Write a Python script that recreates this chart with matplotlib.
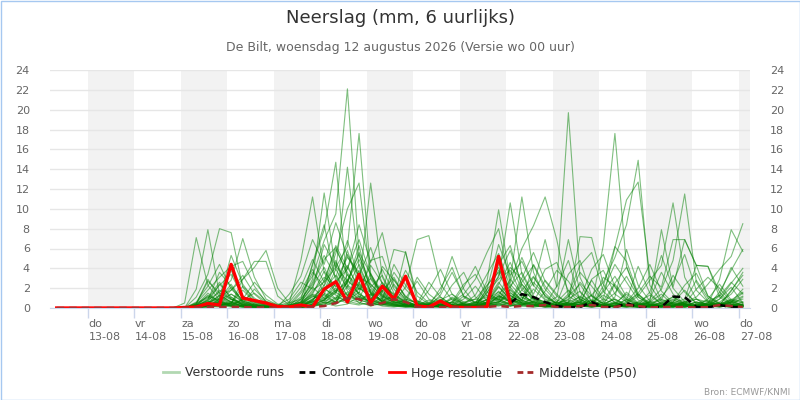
import matplotlib
matplotlib.use("Agg")
from matplotlib import pyplot as plt
from matplotlib.lines import Line2D
from matplotlib.patches import Rectangle
from matplotlib.transforms import ScaledTranslation
import pandas as pd

# 6-hourly time steps (local time), 12-08 08:00 .. 27-08 02:00
times = pd.date_range("2026-08-12 08:00", periods=60, freq="6h")

# perturbed ensemble members, values from step 11 (14-08 20:00) onwards; before that 0
# blocks per row: 15-08 | dry | 18/19-08 | 20/21-08 | 22-08 | 23-08 .. 27-08
runs = [
    [0, 0.3, 1.2, 0.8, 2.1, 0.5, 0.2, 0.1] + [0, 0.2, 1.5] + [3.2, 6.8, 9.5, 22.1, 5.3, 2.4, 1.1, 0.6, 0.3] + [0.2, 0.1, 0.8, 1.4, 0.3, 0.1, 0.5] + [2.1, 0.9, 0.4, 0.2, 0.1] + [0, 0.3, 1.2, 0.4, 0.1, 0.2, 0.9, 0.3, 0, 0.1, 0.6, 1.8, 0.4, 0.1, 0.3, 0.8, 0.2],
    [0, 0.1, 0.6, 2.4, 1.1, 0.4, 0.2, 0] + [0.1, 0, 0.4] + [1.8, 2.6, 4.1, 6.2, 17.6, 3.4, 0.9, 0.4, 0.2] + [0.1, 0.4, 1.1, 0.3, 0, 0.2, 1.6] + [0.8, 2.9, 1.4, 0.5, 0.3] + [2.2, 19.7, 3.1, 0.6, 0.2, 0.1, 0.5, 1.4, 0.3, 0.1, 0.1, 0.4, 0.9, 0.2, 0.1, 0.3, 1.1],
    [0, 0.4, 2.7, 1.5, 0.9, 0.3, 0.8, 0.2] + [0, 0.1, 0.9] + [4.3, 7.9, 14.7, 2.1, 4.4, 1.6, 0.7, 1.2, 0.4] + [0.3, 0.8, 0.2, 0.1, 0.6, 0.9, 2.3] + [3.6, 1.2, 0.6, 1.9, 0.8] + [0.3, 0.9, 1.7, 0.4, 6.3, 17.6, 4.2, 1.1, 0.3, 0.2, 0.6, 0.4, 0.1, 0.3, 0.9, 2.1, 0.5],
    [0, 0, 0.5, 0.9, 3.8, 1.2, 0.4, 0.1] + [0, 0.5, 4.8] + [11.2, 3.6, 1.4, 5.8, 2.2, 12.6, 3.1, 0.8, 0.3] + [0.1, 0, 0.3, 0.9, 0.4, 0.2, 0.1] + [1.3, 0.6, 2.4, 0.9, 0.2] + [0.1, 0.4, 0.2, 1.3, 2.6, 5.1, 8.4, 14.9, 2.3, 0.6, 0.2, 0.1, 0.4, 0.8, 0.3, 0.1, 0.2],
    [0, 0.2, 0.4, 1.3, 0.6, 0.2, 0.1, 0] + [0.1, 0.3, 0.6] + [2.9, 11.6, 3.8, 14.2, 4.1, 1.7, 0.6, 0.9, 0.2] + [0.4, 0.2, 0.1, 0.3, 1.2, 0.6, 0.3] + [0.9, 0.4, 1.1, 0.6, 2.8] + [1.4, 0.3, 0.6, 0.2, 0.9, 6.1, 10.9, 12.7, 3.3, 0.8, 0.4, 0.2, 0.1, 0.5, 0.3, 0.6, 0.2],
    [0, 1.9, 7.9, 1.3, 0.6, 0.4, 0.2, 0.1] + [0, 0, 0.2] + [0.8, 2.3, 5.5, 10.0, 12.6, 2.9, 1.3, 0.5, 0.7] + [0.2, 0.1, 0.4, 0.2, 0, 0.1, 0.6] + [4.4, 6.3, 2.1, 0.7, 0.3] + [0.2, 0.6, 7.2, 7.1, 2.4, 0.8, 0.3, 0.1, 0.2, 0.6, 1.1, 0.4, 0.2, 0.1, 0.4, 0.7, 0.3],
    [0, 0, 0.3, 0.6, 0.4, 2.9, 4.7, 4.7] + [1.2, 0.3, 0.1] + [4.5, 8.4, 2.7, 3.9, 8.4, 4.6, 7.6, 2.2, 0.9] + [0.5, 0.3, 0.2, 1.0, 0.4, 0.2, 1.9] + [3.1, 10.6, 3.4, 1.2, 0.5] + [0.3, 0.2, 0.8, 0.4, 0.1, 0.3, 1.6, 0.5, 0.2, 0.4, 0.9, 0.3, 0.2, 0.6, 1.3, 0.4, 0.1],
    [0, 0.1, 0.2, 0.5, 1.1, 0.3, 0.1, 0] + [0, 0.1, 0.3] + [1.2, 0.7, 2.5, 4.3, 1.8, 3.0, 1.6, 5.9, 5.6] + [1.2, 0.4, 0.1, 0.2, 0.1, 0.3, 0.2] + [0.5, 1.8, 0.7, 0.3, 0.1] + [0.2, 0.4, 0.1, 0.3, 0.6, 0.2, 0.4, 1.2, 2.8, 4.3, 10.6, 3.1, 0.9, 0.6, 0.2, 0.1, 0.3],
    [0, 0.3, 0.7, 0.4, 0.2, 0.8, 1.5, 0.6] + [0.2, 0.1, 0] + [0.4, 1.9, 3.3, 1.2, 2.6, 0.9, 1.8, 0.6, 2.1] + [6.9, 7.3, 2.4, 0.8, 0.3, 0.6, 1.1] + [0.7, 0.3, 0.9, 2.6, 1.3] + [0.4, 0.1, 0.3, 0.8, 0.2, 0.5, 0.2, 0.3, 0.7, 1.9, 4.8, 11.5, 2.6, 0.7, 0.3, 0.2, 0.1],
    [0, 0.1, 0.3, 0.2, 0.5, 0.2, 0.1, 0] + [0, 0, 0.2] + [0.9, 1.4, 0.6, 2.2, 1.1, 0.5, 2.3, 1.4, 0.6] + [0.3, 0.5, 1.6, 5.2, 1.9, 0.4, 2.7] + [9.9, 2.8, 11.2, 3.6, 1.1] + [0.5, 0.2, 0.1, 0.4, 1.3, 0.6, 0.2, 0.1, 0.3, 0.2, 0.5, 0.9, 4.3, 4.2, 1.6, 0.4, 0.2],
    [0, 0.2, 0.1, 0.4, 0.2, 0.1, 0, 0] + [0, 0.1, 0.3] + [0.6, 1.1, 2.0, 0.8, 1.6, 0.4, 0.3, 0.9, 0.5] + [0.2, 0.1, 0.6, 0.3, 0.9, 2.2, 0.7] + [1.4, 2.6, 6.0, 8.3, 11.2] + [6.9, 1.2, 0.5, 0.2, 0.4, 0.9, 0.3, 0.1, 0.2, 0.5, 0.3, 0.6, 1.1, 2.4, 3.9, 5.2, 8.5],
    [0, 0, 0.2, 0.9, 2.4, 0.6, 0.3, 0.1] + [0, 0.2, 0.1] + [0.3, 0.8, 1.6, 4.1, 2.0, 1.3, 0.6, 0.4, 0.2] + [0.1, 0.3, 0.2, 0.6, 1.4, 2.9, 5.6] + [8.0, 2.4, 1.1, 0.4, 0.2] + [0.6, 1.8, 0.9, 0.3, 2.2, 6.2, 4.7, 1.4, 0.5, 0.2, 0.1, 0.3, 0.6, 0.4, 2.9, 7.9, 5.7],
    [0, 0.1, 0.4, 0.3, 0.6, 0.2, 0.1, 0] + [0, 0.1, 0.2] + [0.5, 0.3, 1.1, 0.7, 0.4, 1.9, 0.6, 0.3, 0.1] + [0.2, 0.1, 0.1, 0.3, 0.2, 0.1, 0.4] + [0.6, 1.3, 0.5, 0.3, 0.2] + [0.1, 0.3, 0.6, 0.2, 0.1, 0.2, 0.4, 0.1, 0.1, 0.3, 0.2, 0.5, 0.2, 0.1, 0.3, 0.6, 1.2],
    [0.5, 7.1, 2.3, 0.8, 0.4, 0.2, 0.1, 0] + [0, 0.3, 0.6] + [1.4, 0.9, 2.8, 5.1, 3.6, 0.8, 0.4, 0.2, 0.1] + [0.1, 0.2, 0.4, 0.2, 0.1, 0.3, 0.8] + [2.6, 1.0, 0.4, 0.2, 0.5] + [1.1, 6.9, 1.6, 0.4, 0.2, 0.1, 0.3, 0.2, 0.6, 1.4, 0.3, 0.1, 0.2, 0.4, 0.1, 0.3, 0.2],
    [0, 1.1, 3.4, 8.0, 7.6, 2.1, 0.6, 0.3] + [0.1, 0, 0.2] + [0.7, 1.3, 0.5, 2.9, 1.4, 0.8, 2.6, 1.0, 0.4] + [0.3, 0.6, 0.2, 0.1, 0.4, 0.2, 0.3] + [1.7, 0.5, 0.8, 3.1, 1.5] + [0.4, 0.2, 0.6, 1.3, 0.5, 0.2, 0.1, 0.3, 0.2, 0.1, 0.4, 0.2, 0.6, 0.3, 0.2, 0.5, 0.9],
    [0, 0.2, 0.8, 1.6, 2.8, 7.0, 3.1, 0.9] + [0.3, 0.1, 0] + [0.2, 0.6, 0.4, 1.2, 3.8, 1.5, 0.7, 1.3, 0.5] + [0.2, 0.1, 0.3, 0.6, 0.2, 0.1, 0.2] + [0.4, 0.2, 0.3, 0.6, 0.2] + [0.1, 0.5, 0.3, 0.1, 0.2, 0.6, 0.2, 0.4, 0.1, 0.3, 0.2, 0.1, 0.3, 0.2, 0.4, 0.2, 0.3],
    [0, 0.1, 0.5, 1.2, 1.8, 2.9, 4.1, 5.8] + [2.0, 0.5, 0.9] + [2.4, 4.9, 6.1, 3.3, 2.2, 0.9, 0.4, 0.3, 0.2] + [0.1, 0.2, 0.1, 0.4, 0.3, 0.5, 1.3] + [0.9, 0.3, 0.2, 0.1, 0.3] + [0.2, 0.1, 0.4, 0.2, 0.3, 0.1, 0.2, 0.5, 0.3, 0.2, 0.1, 0.4, 0.2, 0.1, 0.3, 0.5, 0.2],
    [0, 0, 0.1, 0.3, 0.5, 0.2, 0.4, 0.2] + [0.1, 1.4, 3.2] + [6.9, 4.4, 8.6, 5.2, 3.1, 2.4, 1.2, 0.8, 5.7] + [0.6, 0.3, 0.1, 0.2, 0.4, 0.3, 0.9] + [4.9, 1.6, 0.5, 0.3, 0.1] + [0.2, 0.4, 0.6, 2.8, 0.9, 0.4, 0.2, 0.1, 0.6, 7.9, 2.1, 6.9, 4.3, 1.2, 0.5, 0.3, 0.2],
    [0, 0.1, 0.2, 0.1, 0.3, 0.1, 0, 0] + [0, 0, 0.1] + [0.3, 0.6, 0.4, 1.1, 0.8, 0.5, 0.3, 0.2, 0.4] + [0.2, 0.3, 0.5, 0.2, 0.1, 0.2, 0.3] + [0.5, 0.2, 0.4, 0.6, 0.3] + [0.2, 0.1, 0.3, 0.2, 0.4, 0.1, 0.2, 0.3, 0.1, 0.2, 0.4, 0.3, 0.1, 0.2, 0.1, 0.3, 0.4],
    [0, 0.3, 1.5, 0.6, 0.3, 0.9, 0.4, 0.1] + [0, 0.2, 0.5] + [1.1, 2.1, 0.9, 3.4, 1.2, 0.6, 4.2, 2.8, 1.2] + [0.4, 0.2, 0.8, 0.3, 0.1, 0.2, 1.9] + [6.4, 3.3, 4.7, 2.2, 6.9] + [2.1, 4.8, 0.7, 0.3, 0.1, 0.4, 0.2, 0.6, 0.3, 0.1, 0.2, 0.4, 0.2, 0.3, 0.6, 1.4, 2.9],
    [0, 0, 0.3, 0.5, 1.4, 0.7, 0.3, 0.1] + [0, 0, 0.1] + [0.8, 1.9, 1.3, 0.6, 2.4, 1.1, 0.4, 0.6, 0.3] + [0.1, 0.2, 0.3, 0.1, 0.2, 0.6, 0.4] + [1.1, 0.6, 1.8, 0.9, 0.4] + [0.6, 0.3, 0.2, 0.5, 1.6, 3.2, 1.1, 0.4, 0.2, 0.1, 0.3, 0.6, 0.9, 0.3, 0.2, 0.1, 0.4],
    [0, 0.6, 2.2, 4.4, 1.9, 0.8, 0.3, 0.2] + [0.1, 0, 0.4] + [1.6, 3.1, 2.2, 1.4, 0.9, 3.5, 1.2, 0.5, 0.3] + [0.2, 0.4, 0.9, 0.3, 0.2, 0.1, 0.6] + [2.2, 0.8, 0.3, 1.1, 0.4] + [0.3, 1.2, 2.4, 0.6, 0.2, 0.5, 1.4, 0.4, 0.1, 0.2, 0.8, 0.3, 0.1, 0.4, 0.2, 0.6, 1.5],
    [0, 0.2, 0.4, 0.3, 0.9, 0.5, 0.2, 0.1] + [0, 0.1, 0.6] + [2.1, 1.0, 0.6, 2.7, 1.9, 4.3, 2.5, 1.3, 0.6] + [3.1, 1.4, 0.5, 2.3, 3.6, 1.1, 0.4] + [0.3, 0.6, 1.4, 0.5, 0.2] + [0.5, 3.4, 4.8, 1.2, 0.4, 0.9, 0.3, 0.1, 0.2, 0.5, 1.1, 0.4, 0.2, 0.1, 0.3, 1.8, 3.3],
    [0, 0, 0.1, 0.2, 0.4, 0.3, 0.1, 0] + [0, 0, 0] + [0.2, 0.4, 0.9, 0.5, 0.3, 0.6, 0.4, 0.2, 0.1] + [0.1, 0, 0.2, 0.1, 0, 0.1, 0.2] + [0.4, 0.9, 0.3, 0.1, 0.2] + [0.1, 0, 0.2, 0.1, 0.3, 0.2, 0.1, 0, 0.1, 0.2, 0.1, 0.3, 0.2, 0.1, 0.2, 0.1, 0.2],
    [0, 0.1, 0.2, 0.6, 0.3, 0.1, 0, 0] + [0, 0.1, 0.3] + [0.6, 1.4, 3.9, 2.0, 0.8, 0.5, 1.0, 3.6, 1.9] + [0.7, 0.3, 0.2, 0.1, 0.3, 0.2, 0.5] + [1.0, 4.1, 2.9, 0.9, 0.4] + [0.2, 0.6, 0.3, 0.1, 0.2, 1.1, 5.9, 2.3, 0.7, 0.3, 0.2, 0.6, 0.3, 0.2, 1.6, 3.8, 5.9],
    [0, 0.2, 0.3, 0.7, 0.2, 0.1, 0.1, 0] + [0, 0.1, 0] + [0.4, 0.2, 0.7, 1.6, 0.5, 0.3, 0.8, 0.4, 0.2] + [0.3, 0.1, 0.4, 0.6, 0.2, 0.1, 0.3] + [0.2, 0.5, 0.3, 0.7, 0.4] + [0.3, 0.2, 0.1, 0.5, 0.2, 0.1, 0.3, 0.2, 0.4, 0.1, 0.2, 0.1, 0.3, 0.2, 0.5, 0.3, 0.1],
    [0, 0.4, 1.0, 2.6, 0.9, 0.3, 0.1, 0.1] + [0, 0.3, 1.1] + [3.6, 2.2, 4.8, 1.7, 1.0, 0.7, 0.5, 2.4, 0.8] + [0.2, 0.3, 0.1, 0.4, 2.1, 4.2, 1.6] + [2.9, 3.8, 1.3, 0.6, 0.3] + [0.1, 0.2, 0.4, 0.8, 0.3, 0.1, 0.2, 0.6, 1.3, 0.4, 0.2, 0.1, 0.3, 0.2, 0.4, 0.9, 0.6],
    [0, 0, 0.2, 0.3, 0.1, 0.2, 0.1, 0] + [0, 0, 0.2] + [0.1, 0.5, 0.2, 0.4, 1.2, 0.6, 0.2, 0.1, 0.3] + [0.1, 0.2, 0.1, 0.1, 0.3, 0.2, 0.1] + [0.3, 0.2, 0.6, 0.4, 0.2] + [0.1, 0.2, 0.1, 0.3, 0.1, 0.2, 0.1, 0.3, 0.2, 0.1, 0.2, 0.4, 0.1, 0.2, 0.3, 0.2, 0.1],
    [0, 0.1, 0.6, 0.2, 0.5, 1.8, 0.6, 0.2] + [0, 0.2, 0.1] + [0.4, 0.8, 1.8, 2.5, 6.3, 1.4, 0.6, 0.3, 0.2] + [0.1, 0.4, 0.2, 0.1, 0.2, 0.1, 0.3] + [1.2, 0.7, 2.6, 4.3, 1.9] + [0.6, 0.3, 0.2, 0.4, 0.1, 0.3, 0.6, 1.5, 3.2, 2.1, 6.9, 6.9, 4.3, 4.2, 1.1, 0.3, 0.2],
    [0, 0.5, 1.8, 3.1, 4.2, 4.7, 2.2, 0.6] + [0.2, 0.1, 0.3] + [1.3, 0.5, 1.6, 2.8, 5.4, 2.1, 3.3, 0.9, 0.4] + [0.2, 0.1, 0.3, 0.2, 0.5, 0.9, 0.4] + [0.6, 1.5, 0.8, 0.3, 0.1] + [0.3, 0.5, 2.6, 1.2, 0.4, 0.2, 0.1, 0.3, 0.6, 0.2, 0.1, 0.2, 0.4, 0.3, 0.5, 0.2, 0.3],
    [0, 0.2, 0.9, 2.3, 3.4, 1.2, 0.5, 0.2] + [0.1, 0.2, 0.8] + [2.6, 5.3, 3.1, 6.8, 2.9, 1.5, 0.8, 2.9, 1.1] + [0.4, 0.2, 1.3, 3.6, 1.2, 0.5, 0.8] + [3.3, 5.8, 2.4, 1.0, 0.6] + [0.3, 1.1, 3.6, 2.2, 0.7, 2.5, 4.1, 1.3, 0.4, 0.8, 3.3, 1.6, 0.5, 0.3, 1.2, 2.6, 1.4],
    [0, 0.4, 2.9, 1.1, 0.5, 2.2, 1.0, 0.3] + [0.2, 0.6, 2.1] + [4.9, 2.6, 6.3, 4.0, 6.9, 3.2, 1.4, 0.7, 0.4] + [0.3, 1.8, 3.9, 1.4, 0.6, 0.3, 1.5] + [3.8, 2.0, 5.1, 2.3, 0.9] + [0.5, 0.8, 0.4, 2.9, 3.8, 1.4, 0.6, 2.0, 4.4, 1.7, 0.5, 0.3, 0.2, 0.9, 2.4, 0.8, 1.6],
    [0, 0.1, 0.8, 3.6, 2.2, 0.7, 0.3, 0.1] + [0, 0.1, 0.4] + [1.4, 3.7, 2.1, 5.4, 3.3, 6.1, 2.4, 1.1, 3.8] + [1.6, 0.5, 0.2, 0.6, 2.4, 3.4, 1.2] + [0.8, 2.2, 3.6, 1.4, 3.9] + [4.6, 1.7, 0.5, 0.3, 1.8, 4.4, 2.6, 0.8, 0.3, 0.2, 0.6, 2.3, 3.5, 1.2, 0.4, 0.6, 1.9],
    [0, 0.3, 0.6, 1.0, 5.3, 2.4, 0.8, 0.3] + [0.1, 0, 0.3] + [0.9, 1.7, 4.6, 2.3, 1.5, 4.8, 5.2, 1.9, 0.7] + [0.2, 0.4, 0.3, 1.1, 0.5, 0.2, 0.6] + [2.4, 4.6, 1.8, 3.2, 1.2] + [0.4, 0.2, 0.9, 3.9, 5.4, 2.1, 0.6, 0.3, 0.9, 3.6, 1.4, 0.4, 0.2, 0.5, 1.3, 4.1, 2.2],
    [0, 0, 0.4, 1.8, 0.9, 0.5, 1.9, 0.7] + [0.3, 0.9, 2.6] + [1.9, 6.4, 4.2, 2.7, 4.9, 2.1, 0.9, 4.4, 2.3] + [0.7, 0.4, 0.3, 0.2, 0.4, 1.3, 3.4] + [5.5, 2.1, 0.7, 4.4, 2.2] + [0.8, 0.4, 0.3, 0.6, 0.3, 2.4, 0.9, 0.4, 0.2, 1.1, 2.6, 5.4, 1.8, 0.6, 0.3, 1.7, 3.6],
    [0, 0.2, 1.3, 0.6, 1.8, 3.3, 1.4, 0.4] + [0, 0.2, 0.5] + [0.7, 2.8, 5.9, 3.6, 1.4, 0.6, 1.7, 3.1, 1.0] + [2.7, 0.9, 0.4, 0.2, 0.1, 0.5, 2.2] + [4.1, 1.3, 0.5, 0.2, 1.7] + [3.8, 2.7, 0.9, 0.3, 0.6, 1.5, 3.2, 1.1, 0.4, 0.2, 0.1, 0.4, 1.9, 3.1, 2.0, 0.6, 0.3],
    [0, 0.1, 0.2, 0.8, 1.4, 0.6, 0.2, 0.1] + [0, 0.4, 1.7] + [3.9, 1.5, 0.9, 2.6, 5.6, 3.4, 1.6, 0.6, 0.3] + [0.4, 2.6, 1.1, 0.3, 0.1, 0.2, 0.9] + [1.6, 0.7, 3.0, 5.6, 2.7] + [1.2, 0.5, 0.2, 0.4, 3.1, 2.2, 0.8, 4.2, 1.5, 0.4, 0.2, 0.7, 2.8, 1.0, 0.4, 0.2, 0.6],
    [0, 0.3, 0.5, 0.3, 0.7, 0.4, 0.2, 0.1] + [0, 0.1, 0.2] + [0.6, 0.9, 1.8, 1.3, 0.8, 1.4, 0.7, 0.4, 0.9] + [0.5, 0.3, 0.6, 0.4, 0.2, 0.3, 0.6] + [1.2, 0.8, 0.5, 1.0, 0.6] + [0.3, 0.6, 1.1, 0.5, 0.2, 0.4, 0.8, 0.3, 0.5, 0.9, 0.4, 0.2, 0.6, 0.3, 0.4, 0.8, 0.5],
    [0, 0.1, 0.3, 0.5, 0.2, 0.3, 0.1, 0] + [0, 0.1, 0.1] + [0.3, 0.8, 0.5, 0.9, 0.6, 0.2, 0.5, 0.3, 0.2] + [0.1, 0.2, 0.3, 0.1, 0.2, 0.4, 0.3] + [0.7, 0.4, 0.2, 0.3, 0.5] + [0.2, 0.4, 0.2, 0.1, 0.3, 0.5, 0.2, 0.1, 0.3, 0.2, 0.5, 0.3, 0.2, 0.4, 0.2, 0.1, 0.3],
    [0, 0.5, 1.1, 0.4, 0.3, 0.9, 2.6, 1.3] + [0.4, 0.2, 0.6] + [2.2, 4.1, 1.6, 0.8, 2.0, 1.2, 3.9, 1.5, 0.6] + [0.3, 0.2, 2.0, 4.1, 1.1, 0.3, 0.4] + [0.6, 1.9, 0.8, 0.4, 0.2] + [0.3, 1.4, 4.3, 5.6, 1.7, 0.5, 0.2, 0.3, 1.6, 5.3, 2.0, 0.6, 0.3, 0.2, 0.9, 2.5, 4.0],
]
runs_start = 11

# high resolution run (first 10 days)
hires = [0, 0, 0, 0, 0, 0, 0, 0, 0, 0, 0, 0.05, 0.1, 0.45, 0.3, 4.4, 1.0, 0.75, 0.5, 0.15,
         0.1, 0.3, 0.1, 1.9, 2.65, 0.6, 3.4, 0.5, 2.2, 0.9, 3.2, 0.2, 0.1, 0.7, 0.1, 0.05,
         0.05, 0.1, 5.2, 0.5]

# control run, shown from step 39 (22-08 02:00)
control = [0.5, 1.4, 1.1, 0.6, 0.2, 0.05, 0.1, 0.6, 0.1, 0.05, 0.5, 0.1, 0.05, 0.1,
           1.15, 1.1, 0.1, 0.05, 0.3, 0.1, 0.05]
control_start = 39

# ensemble median
median = [0, 0, 0, 0, 0, 0, 0, 0, 0, 0, 0, 0, 0.05, 0.1, 0.1, 0.1, 0.1, 0.05, 0.05, 0,
          0, 0.05, 0.1, 0.2, 0.5, 1.0, 0.9, 0.3, 0.5, 0.9, 0.6, 0.1, 0.05, 0.1, 0.05, 0.05,
          0.05, 0.1, 0.2, 0.1, 0.2, 0.2, 0.3, 0.1, 0.1, 0.2, 0.3, 0.1, 0.1, 0.3, 0.2, 0.05,
          0.1, 0.1, 0.1, 0.05, 0.1, 0.3, 0.2, 0.1]

day_names = ["ma", "di", "wo", "do", "vr", "za", "zo"]
yticks = list(range(0, 25, 2))

fig = plt.figure(figsize=(8, 4), dpi=100)
ax = fig.add_axes([50 / 800, 92 / 400, 700 / 800, 238 / 400])

days = pd.date_range("2026-08-13", "2026-08-27", freq="D")
for d in days[::2]:
    ax.axvspan(d, d + pd.Timedelta(days=1), color="#f2f2f2", lw=0, zorder=0)

for row in runs:
    if len(row) != len(times) - runs_start:
        raise ValueError("run has wrong length")
    ax.plot(times, [0.0] * runs_start + row, color="#008000", lw=0.8, alpha=0.5, zorder=2)

ax.plot(times[control_start:], control, color="black", lw=1.8, ls=(0, (3, 2)), zorder=3)
ax.plot(times[:len(hires)], hires, color="#ff0000", lw=2.4, zorder=4)
ax.plot(times, median, color="#a52a2a", lw=1.8, ls=(0, (3, 2)), zorder=5)

ax.set_xlim(pd.Timestamp("2026-08-12 04:33"), pd.Timestamp("2026-08-27 05:42"))
ax.set_ylim(0, 24)
ax.set_yticks(yticks)
ax.grid(axis="y", color="#e6e6e6", lw=1)
ax.set_axisbelow(True)
for s in ["top", "left", "right"]:
    ax.spines[s].set_visible(False)
ax.spines["bottom"].set_color("#ccd6eb")
ax.spines["bottom"].set_zorder(6)

ax.tick_params(axis="y", left=False, right=False, labelleft=True, labelright=True,
               labelsize=8, labelcolor="#666666", pad=11)

ax.set_xticks(days)
ax.set_xticklabels(["%s\n%s" % (day_names[d.weekday()], d.strftime("%d-%m")) for d in days])
ax.tick_params(axis="x", length=7, width=1, color="#ccd6eb", labelsize=8,
               labelcolor="#666666", pad=1)
for lab in ax.get_xticklabels():
    lab.set_horizontalalignment("left")
    lab.set_multialignment("left")
    lab.set_linespacing(1.35)
    lab.set_transform(lab.get_transform() + ScaledTranslation(0.5 / 72, 0, fig.dpi_scale_trans))

fig.text(0.5, 1 - 18 / 400, "Neerslag (mm, 6 uurlijks)", ha="center", va="center",
         fontsize=13, color="#333333")
fig.text(0.5, 1 - 47 / 400, "De Bilt, woensdag 12 augustus 2026 (Versie wo 00 uur)",
         ha="center", va="center", fontsize=9, color="#666666")
fig.text(790 / 800, 1 - 392 / 400, "Bron: ECMWF/KNMI", ha="right", va="center",
         fontsize=6.5, color="#999999")

handles = [
    Line2D([], [], color="#008000", lw=2, alpha=0.3),
    Line2D([], [], color="black", lw=2, ls=(0, (2.1, 1.5))),
    Line2D([], [], color="#ff0000", lw=2),
    Line2D([], [], color="#a52a2a", lw=2, ls=(0, (2.1, 1.5))),
]
labels = ["Verstoorde runs", "Controle", "Hoge resolutie", "Middelste (P50)"]
leg = fig.legend(handles, labels, loc="center", bbox_to_anchor=(0.5, 1 - 373 / 400),
                 ncol=4, frameon=False, fontsize=9, handlelength=1.25, handletextpad=0.5,
                 columnspacing=1.2)
for t in leg.get_texts():
    t.set_color("#333333")

fig.patches.append(Rectangle((0.5 / 800, 0.5 / 400), 799 / 800, 399 / 400, transform=fig.transFigure,
                             fill=False, edgecolor="#a6c8f0", lw=1))

fig.savefig("out.png", dpi=100)
